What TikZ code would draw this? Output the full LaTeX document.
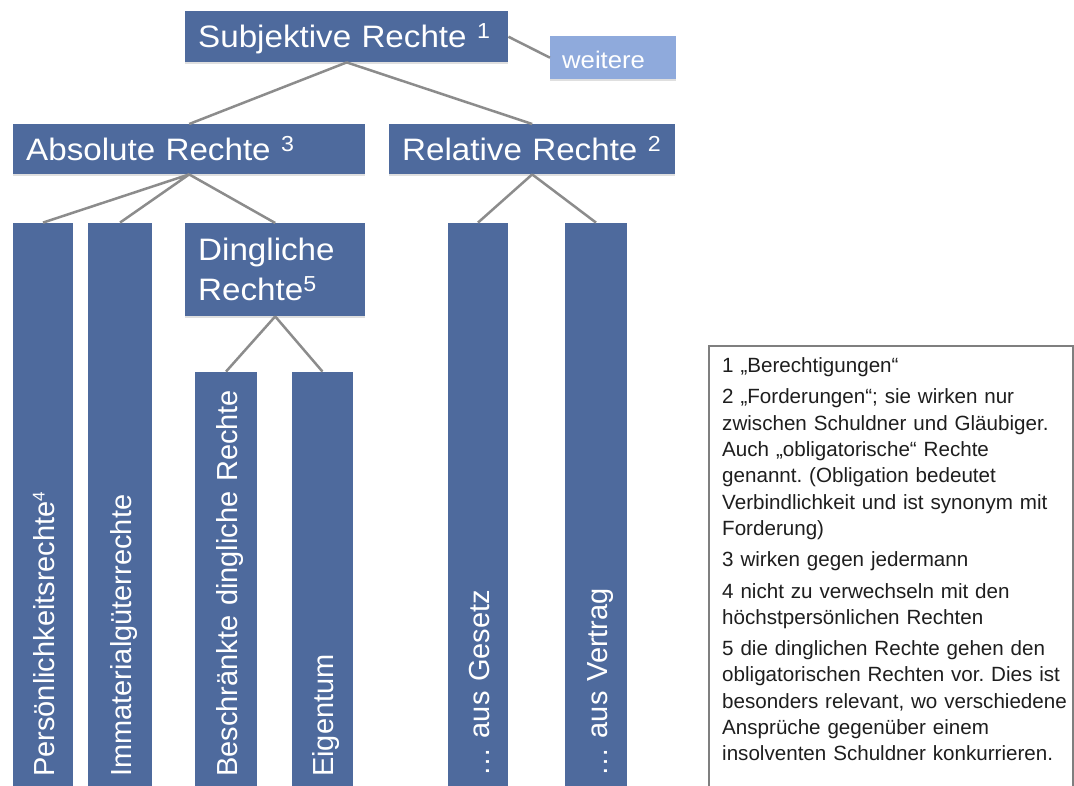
\documentclass[tikz,border=0pt]{standalone}
\usepackage{fontspec}
\setmainfont{Liberation Sans}[FakeStretch=1.07]
\newfontfamily\barfont{Liberation Sans}
\newfontfamily\notefont{Liberation Sans}
\usepackage{tikz}
\usepackage{xcolor}
\usetikzlibrary{
    shadows,
    positioning
}
\definecolor{boxblue}{HTML}{4E6A9D}
\definecolor{lightblue}{HTML}{8FAADC}
\definecolor{linegray}{HTML}{8C8C8C}
\definecolor{framegray}{HTML}{7F7F7F}
\definecolor{notetext}{HTML}{1E1E1E}
\frenchspacing

\begin{document}
\begin{tikzpicture}[x=1pt, y=1pt,
    box/.style={fill=boxblue, text=white, anchor=north west, align=left, inner xsep=13pt, inner ysep=0pt,
        font=\fontsize{31}{40}\selectfont, drop shadow={shadow xshift=0pt, shadow yshift=-2pt, opacity=0.25}},
    bar/.style={fill=boxblue, text=white, rotate=90, anchor=west, align=left, inner xsep=15pt, inner ysep=0pt,
        text height=22pt, text depth=0pt, font=\barfont\fontsize{29}{34}\selectfont},
    link/.style={draw=linegray, line width=2.5pt}
]
    \clip (0, 0) rectangle (1074, -785);
    \fill[white] (0, 0) rectangle (1074, -785);

    \node[box, minimum height=51pt, text width=297pt, text height=22pt, text depth=0pt] (subj) at (185, -11) {Subjektive Rechte \textsuperscript{1}};
    \node[box, fill=lightblue, inner xsep=12pt, minimum height=43pt, text width=102pt, text height=21pt, text depth=0pt,
        font=\fontsize{24}{28}\selectfont] (weit) at (550, -36) {weitere};
    \node[box, minimum height=50pt, text width=326pt, text height=22pt, text depth=0pt] (abs) at (13, -124) {Absolute Rechte \textsuperscript{3}};
    \node[box, minimum height=50pt, text width=260pt, text height=22pt, text depth=0pt] (rel) at (389, -124) {Relative Rechte \textsuperscript{2}};
    \node[box, minimum height=93pt, text width=154pt] (ding) at (185, -223) {Dingliche\\Rechte\textsuperscript{5}};

    \node[bar, minimum width=569pt, minimum height=60pt, text width=539pt] (pers) at (43, -792) {Persönlichkeitsrechte{\fontsize{17}{17}\selectfont\raisebox{0.55em}{4}}};
    \node[bar, minimum width=569pt, minimum height=64pt, text width=539pt] (imm) at (120, -792) {Immaterialgüterrechte};
    \node[bar, minimum width=420pt, minimum height=62pt, text width=390pt] (besch) at (226, -792) {Beschränkte dingliche Rechte};
    \node[bar, minimum width=420pt, minimum height=61pt, text width=390pt] (eig) at (322.5, -792) {Eigentum};
    \node[bar, minimum width=569pt, minimum height=60pt, text width=539pt] (ges) at (478, -792) {… aus Gesetz};
    \node[bar, minimum width=569pt, minimum height=62pt, text width=539pt] (vert) at (596, -792) {… aus Vertrag};

    \draw[link]
    (subj.south) -- (abs.north)
    (subj.south) -- (rel.north)
    (subj.east) -- (weit.west)
    (abs.south) -- (pers.east)
    (abs.south) -- (imm.east)
    (abs.south) -- (ding.north)
    (ding.south) -- (besch.east)
    (ding.south) -- (eig.east)
    (rel.south) -- (ges.east)
    (rel.south) -- (vert.east);

    \draw[framegray, line width=1.2pt] (709, -346) rectangle (1073, -795);
    \node[anchor=north west, align=left, text width=352pt, inner xsep=13pt, inner ysep=11.5pt, text=notetext,
        font=\notefont\fontsize{20.6}{26.3}\selectfont] (notes) at (709, -346) {%
        1 „Berechtigungen“\\[5pt]
        2 „Forderungen“; sie wirken nur\\
        zwischen Schuldner und Gläubiger.\\
        Auch „obligatorische“ Rechte\\
        genannt. (Obligation bedeutet\\
        Verbindlichkeit und ist synonym mit\\
        Forderung)\\[5pt]
        3 wirken gegen jedermann\\[5pt]
        4 nicht zu verwechseln mit den\\
        höchstpersönlichen Rechten\\[5pt]
        5 die dinglichen Rechte gehen den\\
        obligatorischen Rechten vor. Dies ist\\
        besonders relevant, wo verschiedene\\
        Ansprüche gegenüber einem\\
        insolventen Schuldner konkurrieren.};
\end{tikzpicture}
\end{document}
